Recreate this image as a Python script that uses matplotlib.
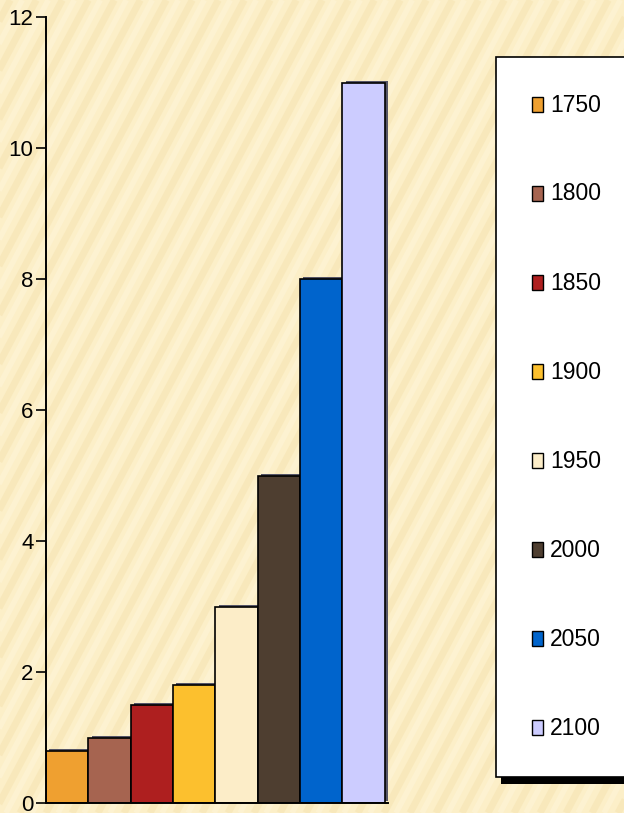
import numpy as np
import matplotlib.pyplot as plt
from matplotlib.patches import Rectangle

years = ['1750', '1800', '1850', '1900', '1950', '2000', '2050', '2100']
values = [0.8, 1.0, 1.5, 1.8, 3.0, 5.0, 8.0, 11.0]
colors = ['#EFA030', '#A66450', '#AE1F1F', '#FCC02E', '#FCEDC8', '#4E3E30', '#0064CC', '#CCCCFF']
yticks = [0, 2, 4, 6, 8, 10, 12]

plt.rcParams['font.family'] = ['Liberation Sans', 'DejaVu Sans']

fig = plt.figure(figsize=(6.24, 8.13), dpi=100)
fig.patch.set_facecolor('#FCEFC8')

# striped background
bg = fig.add_axes([0, 0, 1, 1], zorder=-5)
bg.set_xlim(0, 624)
bg.set_ylim(0, 813)
bg.axis('off')
dx = 813 / np.tan(np.radians(62))
for x0 in np.arange(-500, 700, 26):
    bg.plot([x0, x0 + dx], [0, 813], color='#F2DCA4', lw=5, alpha=0.35, solid_capstyle='butt')
    bg.plot([x0 + 12, x0 + 12 + dx], [0, 813], color='#FFF8E4', lw=4, alpha=0.35, solid_capstyle='butt')

ax = fig.add_axes([46 / 624, 10 / 813, (388 - 46) / 624, (796 - 10) / 813])
ax.patch.set_alpha(0)
x = np.arange(len(years))
# depth shadow
ax.bar(x + 0.08, values, width=1.0, bottom=0.03, color='#555566', edgecolor='none', zorder=1)
ax.bar(x, values, width=1.0, color=colors, edgecolor='black', linewidth=1.2, zorder=2)
ax.set_xlim(-0.5, 7.58)
ax.set_ylim(0, 12)
ax.set_yticks(yticks)
ax.set_yticklabels([str(t) for t in yticks], fontsize=16)
ax.set_xticks([])
ax.tick_params(axis='y', length=7, width=1.2, pad=2)
for s in ['top', 'right']:
    ax.spines[s].set_visible(False)
ax.spines['left'].set_linewidth(1.4)
ax.spines['bottom'].set_linewidth(1.4)

# legend box
fig.patches.append(Rectangle((501 / 624, 1 - 784 / 813), 0.3, (784 - 64) / 813,
                             transform=fig.transFigure, facecolor='black', zorder=3))
fig.patches.append(Rectangle((496 / 624, 1 - 777 / 813), 0.3, (777 - 57) / 813,
                             transform=fig.transFigure, facecolor='white',
                             edgecolor='black', linewidth=1.2, zorder=4))
ys = np.linspace(105, 728, len(years))
for yr, c, yp in zip(years, colors, ys):
    fig.patches.append(Rectangle((532 / 624, 1 - (yp + 7) / 813), 11 / 624, 15 / 813,
                                 transform=fig.transFigure, facecolor=c,
                                 edgecolor='black', linewidth=1, zorder=5))
    fig.text(550 / 624, 1 - yp / 813, yr, fontsize=16.5, va='center', ha='left', zorder=6)

fig.savefig('out.png', dpi=100)
